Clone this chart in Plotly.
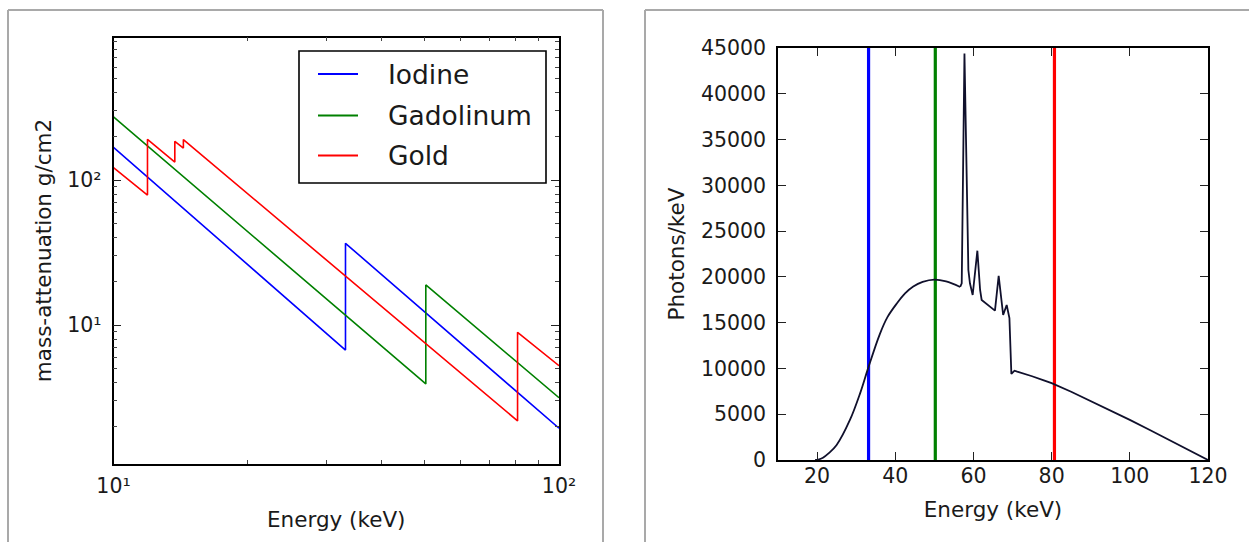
import plotly.graph_objects as go

W, H = 1249, 542

# Mass attenuation (cm2/g) at the segment ends and absorption edges (straight lines on log-log axes)
iodine_energy = [10, 33.17, 33.17, 100]
iodine_mu = [168, 6.72, 36.6, 1.94]

gadolinium_energy = [10, 50.24, 50.24, 100]
gadolinium_mu = [273, 3.92, 18.9, 3.15]

gold_energy = [10, 11.92, 11.92, 13.73, 13.73, 14.35, 14.35, 80.72, 80.72, 100]
gold_mu = [121.6, 78.8, 191, 133, 185, 166, 190, 2.18, 8.9, 5.24]

element_names = ["Iodine", "Gadolinum", "Gold"]
element_colors = ["#0000ff", "#008000", "#ff0000"]
k_edges = [33.17, 50.24, 80.72]

# 120 kVp tube spectrum (photons/keV)
spectrum_energy = [19.5, 20.3, 21.5, 23, 25, 28.4, 31, 33, 36, 38, 40.4, 42.5, 44.6, 47, 50,
                   53, 56.6, 57.0, 57.7, 58.7, 59.1, 59.8, 61.0, 61.7, 62.1, 65.5, 66.45,
                   67.6, 68.5, 69.2, 69.7, 70.5, 71.2, 72, 75, 78, 80, 85, 90, 95, 100,
                   105, 110, 115, 120]
spectrum_counts = [0, 50, 250, 750, 1640, 4370, 7280, 9950, 13700, 15600, 17100, 18200, 18950,
                   19450, 19700, 19500, 18900, 19300, 44400, 20750, 19300, 18020, 22860, 18570,
                   17475, 16310, 20100, 15840, 16930, 15500, 9400, 9750, 9650, 9550, 9150,
                   8700, 8400, 7450, 6450, 5420, 4380, 3300, 2220, 1120, 0]
# the bremsstrahlung continuum below the characteristic lines is drawn smoothed
smooth_until = 56.6

spectrum_ymax = 45000

FONT = "DejaVu Sans"
TXT = "#1a1a1a"
SPEC_COLOR = "#10102c"


def fx(p):
    return p / W


def fy(p):
    return 1 - p / H


fig = go.Figure()

# left panel: attenuation curves
series = [(iodine_energy, iodine_mu), (gadolinium_energy, gadolinium_mu), (gold_energy, gold_mu)]
for (e, mu), name, col in zip(series, element_names, element_colors):
    fig.add_trace(go.Scatter(x=e, y=mu, mode="lines", name=name,
                             line=dict(color=col, width=1.6),
                             xaxis="x", yaxis="y", showlegend=False))

# right panel: K-edge markers and spectrum
for edge, col in zip(k_edges, element_colors):
    fig.add_trace(go.Scatter(x=[edge, edge], y=[0, spectrum_ymax], mode="lines",
                             line=dict(color=col, width=3.2),
                             xaxis="x2", yaxis="y2", showlegend=False))

split = spectrum_energy.index(smooth_until) + 1
fig.add_trace(go.Scatter(x=spectrum_energy[:split], y=spectrum_counts[:split], mode="lines",
                         line=dict(color=SPEC_COLOR, width=1.8, shape="spline", smoothing=1.0),
                         xaxis="x2", yaxis="y2", showlegend=False))
fig.add_trace(go.Scatter(x=spectrum_energy[split - 1:], y=spectrum_counts[split - 1:], mode="lines",
                         line=dict(color=SPEC_COLOR, width=1.8),
                         xaxis="x2", yaxis="y2", showlegend=False))

axis_common = dict(showgrid=False, zeroline=False, showline=True, linecolor="black",
                   linewidth=1.6, ticks="inside", tickcolor="#222", tickwidth=1.2,
                   ticklen=8, mirror="allticks", automargin=False,
                   tickfont=dict(family=FONT, size=20.5, color=TXT))

minor_x = [20, 30, 40, 50, 60, 70, 80, 90]
minor_y = [2, 3, 4, 5, 6, 7, 8, 9, 20, 30, 40, 50, 60, 70, 80, 90,
           200, 300, 400, 500, 600, 700, 800, 900]

fig.update_layout(
    width=W, height=H,
    margin=dict(l=0, r=0, t=0, b=0, pad=0, autoexpand=False),
    paper_bgcolor="white", plot_bgcolor="white",
    showlegend=False,
    xaxis=dict(axis_common, type="log", range=[1, 2],
               domain=[fx(113.5), fx(559)], anchor="y",
               tickmode="array", tickvals=[10, 100],
               ticktext=["10¹", "10²"],
               ticklabelstandoff=3,
               minor=dict(tickmode="array", tickvals=minor_x, ticks="inside",
                          ticklen=4, tickcolor="#444", tickwidth=1),
               title=dict(text="Energy (keV)", standoff=15,
                          font=dict(family=FONT, size=21.5, color=TXT))),
    yaxis=dict(axis_common, type="log", range=[0.0448, 2.983],
               domain=[fy(463.5), fy(37.5)], anchor="x",
               tickmode="array", tickvals=[10, 100],
               ticktext=["10¹", "10²"],
               ticklabelstandoff=6,
               minor=dict(tickmode="array", tickvals=minor_y, ticks="inside",
                          ticklen=4, tickcolor="#444", tickwidth=1),
               title=dict(text="mass-attenuation g/cm2", standoff=10,
                          font=dict(family=FONT, size=21.5, color=TXT))),
    xaxis2=dict(axis_common, range=[10, 120],
                domain=[fx(778), fx(1208)], anchor="y2",
                tickmode="linear", tick0=0, dtick=20, ticklabelstandoff=-3,
                title=dict(text="Energy (keV)", standoff=15,
                           font=dict(family=FONT, size=21.5, color=TXT))),
    yaxis2=dict(axis_common, range=[0, spectrum_ymax],
                domain=[fy(460), fy(48)], anchor="x2",
                tickmode="linear", tick0=0, dtick=5000, tickformat="d",
                ticklabelstandoff=6,
                title=dict(text="Photons/keV", standoff=10,
                           font=dict(family=FONT, size=21.5, color=TXT))),
)

shapes = []
frame = dict(color="#a9a9a9", width=2)


def frame_line(x0, y0, x1, y1):
    return dict(type="line", xref="paper", yref="paper",
                x0=fx(x0), x1=fx(x1), y0=fy(y0), y1=fy(y1),
                line=frame, layer="below")


# panel frames (open at the bottom/right where the page ends)
shapes += [frame_line(8, 10, 603, 10), frame_line(8, 10, 8, 542), frame_line(603, 10, 603, 542)]
shapes += [frame_line(645, 10, 1249, 10), frame_line(645, 10, 645, 542)]

# legend box for the left panel
shapes.append(dict(type="rect", xref="paper", yref="paper",
                   x0=fx(299), x1=fx(546), y0=fy(183), y1=fy(51),
                   line=dict(color="black", width=1.6), fillcolor="white", layer="above"))
annotations = []
row_y = [74, 115.5, 155.5]
for name, col, ry in zip(element_names, element_colors, row_y):
    shapes.append(dict(type="line", xref="paper", yref="paper",
                       x0=fx(318), x1=fx(358), y0=fy(ry), y1=fy(ry),
                       line=dict(color=col, width=1.8), layer="above"))
    annotations.append(dict(xref="paper", yref="paper", x=fx(386), y=fy(ry),
                            xanchor="left", yanchor="middle", showarrow=False,
                            text=name, font=dict(family=FONT, size=26.5, color=TXT)))

fig.update_layout(shapes=shapes, annotations=annotations)

fig.write_html("out.html")
